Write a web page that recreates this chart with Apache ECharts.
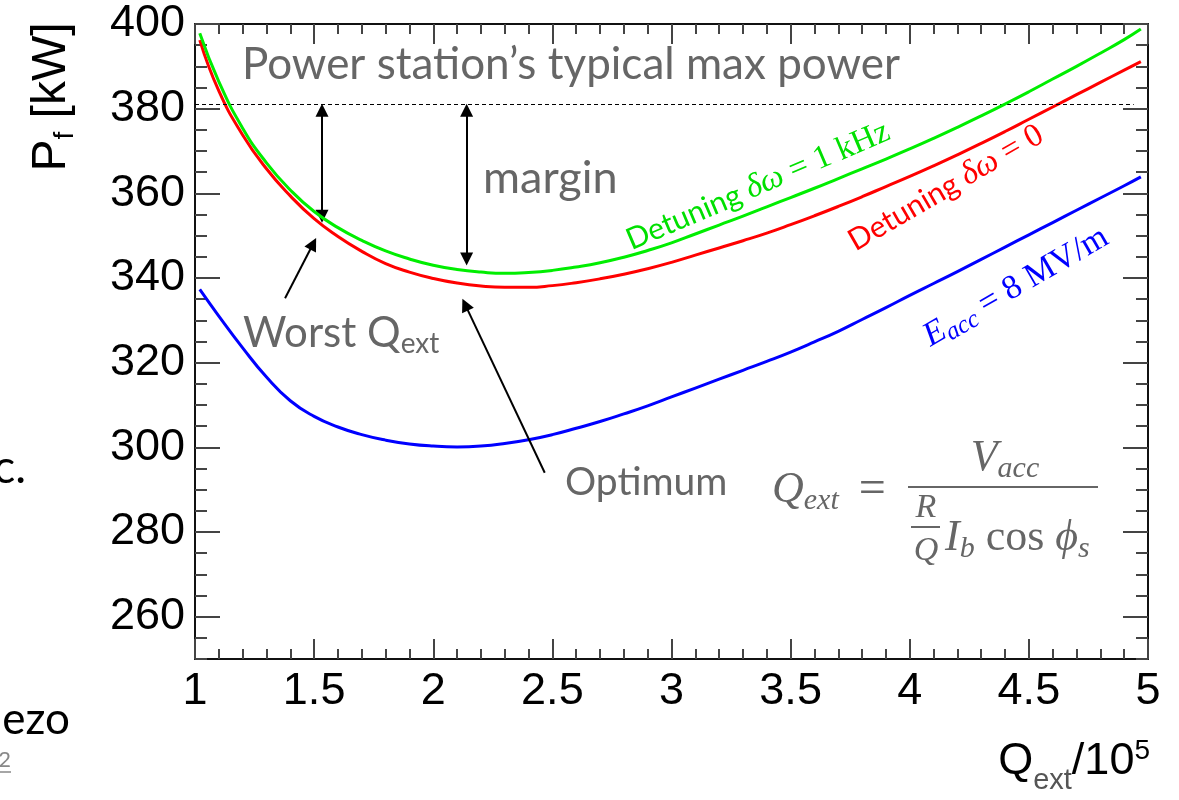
<!DOCTYPE html>
<html>
<head>
<meta charset="utf-8">
<script src="https://cdn.jsdelivr.net/npm/echarts@6/dist/echarts.min.js"></script>
<style>
  html, body { margin: 0; padding: 0; background: #ffffff; }
  #chart { width: 1179px; height: 800px; }
</style>
</head>
<body>
<div id="chart"></div>
<script>
// External quality factor (units of 1e5)
const qExt = [1.02, 1.1, 1.2, 1.3, 1.4, 1.5, 1.6, 1.7, 1.8, 1.9,
  2.0, 2.1, 2.2, 2.3, 2.4, 2.5, 2.6, 2.7, 2.8, 2.9,
  3.0, 3.1, 3.2, 3.3, 3.4, 3.5, 3.6, 3.7, 3.8, 3.9,
  4.0, 4.1, 4.2, 4.3, 4.4, 4.5, 4.6, 4.7, 4.8, 4.9, 4.97];

// Forward power [kW], detuning 1 kHz
const powerDetuned = [397.8, 386.4, 375.4, 367.2, 360.8, 355.7, 351.9, 348.9, 346.4, 344.5,
  343.0, 342.0, 341.4, 341.1, 341.3, 341.8, 342.6, 343.6, 344.9, 346.5,
  348.3, 350.4, 352.5, 354.6, 356.8, 359.0, 361.2, 363.5, 365.8, 368.1,
  370.5, 373.0, 375.6, 378.3, 381.1, 384.0, 387.0, 390.0, 393.1, 396.3, 398.8];

// Forward power [kW], no detuning
const powerTuned = [396.2, 384.2, 373.8, 365.8, 359.4, 354.0, 349.8, 346.3, 343.4, 341.4,
  339.9, 338.8, 338.1, 337.8, 337.8, 338.2, 338.9, 339.8, 340.9, 342.2,
  343.7, 345.4, 347.1, 348.8, 350.6, 352.6, 354.7, 356.9, 359.2, 361.6,
  364.0, 366.5, 369.1, 371.8, 374.6, 377.5, 380.4, 383.3, 386.2, 389.1, 391.1];

// Forward power [kW], Eacc = 8 MV/m
const powerLowField = [337.3, 331.0, 323.5, 316.6, 311.0, 307.3, 304.8, 303.0, 301.7, 300.8,
  300.3, 300.1, 300.3, 300.9, 301.8, 303.0, 304.5, 306.1, 307.9, 309.8,
  311.9, 314.0, 316.1, 318.2, 320.3, 322.5, 324.9, 327.4, 330.2, 333.0,
  335.9, 338.7, 341.5, 344.4, 347.3, 350.2, 353.1, 356.0, 358.9, 361.8, 363.9];

const yMajorTicks = [260, 280, 300, 320, 340, 360, 380, 400];
const stationMaxPower = 381;

// Annotation arrows: [x, yFrom, yTo] in data units
const marginArrowWorst = [1.533, 379.6, 354.6];
const marginArrowOpt = [2.140, 379.6, 344.5];
const worstArrow = [[1.378, 335.2], [1.496, 348.1]];
const optimumArrow = [[2.468, 294.0], [2.134, 333.7]];

const pairs = ys => qExt.map((x, i) => [x, ys[i]]);

const chart = echarts.init(document.getElementById('chart'), null, { renderer: 'canvas' });

const SANS = 'Liberation Sans, Arial, Helvetica, sans-serif';
const NOTE = 'Lato, Open Sans, sans-serif';
const SERIF = 'Liberation Serif, DejaVu Serif, serif';
const GRAY = '#666666';
const AXIS = '#111111';
const TICK = '#444444';

function xAxisDef(pos, labels) {
  return {
    type: 'value', min: 1, max: 5, interval: 0.5, position: pos,
    axisLine: { show: true, onZero: false, lineStyle: { color: AXIS, width: 2 } },
    axisTick: { show: true, inside: true, length: 20, lineStyle: { color: TICK, width: 2 } },
    minorTick: { show: true, splitNumber: 5, length: 10, lineStyle: { color: TICK, width: 2 } },
    axisLabel: { show: labels, margin: 10, color: '#000', fontSize: 45, fontFamily: SANS },
    splitLine: { show: false }, minorSplitLine: { show: false }
  };
}
function yMinorDef(pos) {
  return {
    type: 'value', min: 250, max: 400, interval: 5, position: pos,
    axisLine: { show: true, onZero: false, lineStyle: { color: AXIS, width: 2 } },
    axisTick: { show: true, inside: true, length: 12, lineStyle: { color: TICK, width: 2 } },
    axisLabel: { show: false },
    splitLine: { show: false }
  };
}
function yMajorDef(pos, labels) {
  return {
    type: 'value', min: 250, max: 400, position: pos,
    axisLine: { show: false },
    axisTick: { show: true, inside: true, length: 25, customValues: yMajorTicks, lineStyle: { color: TICK, width: 2 } },
    axisLabel: { show: labels, customValues: yMajorTicks, margin: 10, color: '#000', fontSize: 45, fontFamily: SANS },
    splitLine: { show: false }
  };
}

function arrowLine(from, to, startArrow) {
  return [
    { coord: from, symbol: startArrow ? 'path://M0,0L6,14L-6,14Z' : 'none', symbolSize: 13,
      lineStyle: { color: '#000', width: 2, type: 'solid' } },
    { coord: to, symbol: 'path://M0,0L6,14L-6,14Z', symbolSize: 13 }
  ];
}

const italicSerif = (size, color, extra) => Object.assign({ fontSize: size, fontFamily: SERIF, fontStyle: 'italic', fill: color }, extra || {});
const uprightSerif = (size, color, extra) => Object.assign({ fontSize: size, fontFamily: SERIF, fill: color }, extra || {});

const option = {
  animation: false,
  backgroundColor: '#ffffff',
  grid: { left: 195, right: 31, top: 24, bottom: 141, containLabel: false },
  xAxis: [xAxisDef('bottom', true), xAxisDef('top', false)],
  yAxis: [yMinorDef('left'), yMajorDef('left', true), yMinorDef('right'), yMajorDef('right', false)],
  series: [
    {
      name: 'Eacc = 8 MV/m', type: 'line', data: pairs(powerLowField), smooth: true,
      showSymbol: false, lineStyle: { color: '#0000ff', width: 3 }, z: 3,
      markLine: {
        silent: true, animation: false, label: { show: false },
        symbol: ['none', 'none'],
        data: [
          [{ coord: [1, stationMaxPower], symbol: 'none', lineStyle: { color: '#000', width: 1, type: [4, 3] } },
           { coord: [4.94, stationMaxPower], symbol: 'none' }],
          arrowLine([marginArrowWorst[0], marginArrowWorst[1]], [marginArrowWorst[0], marginArrowWorst[2]], true),
          arrowLine([marginArrowOpt[0], marginArrowOpt[1]], [marginArrowOpt[0], marginArrowOpt[2]], true),
          arrowLine(worstArrow[0], worstArrow[1], false),
          arrowLine(optimumArrow[0], optimumArrow[1], false)
        ]
      }
    },
    {
      name: 'Detuning 0', type: 'line', data: pairs(powerTuned), smooth: true,
      showSymbol: false, lineStyle: { color: '#ff0000', width: 3 }, z: 4
    },
    {
      name: 'Detuning 1 kHz', type: 'line', data: pairs(powerDetuned), smooth: true,
      showSymbol: false, lineStyle: { color: '#00ee00', width: 3 }, z: 5
    }
  ],
  graphic: [
    // annotation texts
    { type: 'text', x: 242, y: 65, style: { text: 'Power station’s typical max power', font: '44px ' + NOTE, fill: GRAY, align: 'left', verticalAlign: 'middle' } },
    { type: 'text', x: 483, y: 178, style: { text: 'margin', font: '45px ' + NOTE, fill: GRAY, align: 'left', verticalAlign: 'middle' } },
    { type: 'text', x: 243, y: 333, style: {
        text: '{a|Worst Q}{b|ext}', align: 'left', verticalAlign: 'middle',
        rich: { a: { fontSize: 42, fontFamily: NOTE, fill: GRAY, lineHeight: 50 },
                b: { fontSize: 28, fontFamily: NOTE, fill: GRAY, lineHeight: 28, verticalAlign: 'bottom' } } } },
    { type: 'text', x: 565, y: 482, style: { text: 'Optimum', font: '39px ' + NOTE, fill: GRAY, align: 'left', verticalAlign: 'middle' } },

    // Q_ext formula
    { type: 'text', x: 772, y: 490, style: {
        text: '{q|Q}{s|ext}{e|=}', align: 'left', verticalAlign: 'middle',
        rich: { q: italicSerif(44, GRAY, { lineHeight: 52 }),
                s: italicSerif(30, GRAY, { lineHeight: 32, verticalAlign: 'bottom' }),
                e: uprightSerif(48, GRAY, { lineHeight: 52, padding: [0, 0, 0, 20] }) } } },
    { type: 'line', shape: { x1: 908, y1: 487, x2: 1098, y2: 487 }, style: { stroke: GRAY, lineWidth: 2 } },
    { type: 'text', x: 1005, y: 458, style: {
        text: '{q|V}{s|acc}', align: 'center', verticalAlign: 'middle',
        rich: { q: italicSerif(44, GRAY, { lineHeight: 52 }),
                s: italicSerif(30, GRAY, { lineHeight: 32, verticalAlign: 'bottom' }) } } },
    { type: 'text', x: 926, y: 508, style: { text: 'R', font: 'italic 34px ' + SERIF, fill: GRAY, align: 'center', verticalAlign: 'middle' } },
    { type: 'line', shape: { x1: 911, y1: 527, x2: 940, y2: 527 }, style: { stroke: GRAY, lineWidth: 2 } },
    { type: 'text', x: 926, y: 551, style: { text: 'Q', font: 'italic 34px ' + SERIF, fill: GRAY, align: 'center', verticalAlign: 'middle' } },
    { type: 'text', x: 945, y: 538, style: {
        text: '{q|I}{s|b}{e| cos }{q|ϕ}{s|s}', align: 'left', verticalAlign: 'middle',
        rich: { q: italicSerif(44, GRAY, { lineHeight: 52 }),
                s: italicSerif(30, GRAY, { lineHeight: 32, verticalAlign: 'bottom' }),
                e: uprightSerif(44, GRAY, { lineHeight: 52 }) } } },

    // curve labels
    { type: 'text', x: 758, y: 186, rotation: 23 * Math.PI / 180, style: {
        text: '{a|Detuning }{b|δω}{c| = 1 kHz}', align: 'center', verticalAlign: 'middle',
        rich: { a: { fontSize: 30, fontFamily: NOTE, fill: '#00e000' },
                b: italicSerif(33, '#00e000'),
                c: uprightSerif(33, '#00e000') } } },
    { type: 'text', x: 946, y: 188, rotation: 30 * Math.PI / 180, style: {
        text: '{a|Detuning }{b|δω}{c| = 0}', align: 'center', verticalAlign: 'middle',
        rich: { a: { fontSize: 30, fontFamily: NOTE, fill: '#ff0000' },
                b: italicSerif(33, '#ff0000'),
                c: uprightSerif(33, '#ff0000') } } },
    { type: 'text', x: 1016, y: 287, rotation: 30 * Math.PI / 180, style: {
        text: '{b|E}{s|acc}{c| = 8 MV/m}', align: 'center', verticalAlign: 'middle',
        rich: { b: italicSerif(34, '#0000ff', { lineHeight: 40 }),
                s: italicSerif(25, '#0000ff', { lineHeight: 25, verticalAlign: 'bottom' }),
                c: uprightSerif(34, '#0000ff', { lineHeight: 40 }) } } },

    // axis titles
    { type: 'text', x: 52, y: 97, rotation: Math.PI / 2, style: {
        text: '{m|P}{s|f}{m| [kW]}', align: 'center', verticalAlign: 'middle',
        rich: { m: { fontSize: 48, fontFamily: SANS, fill: '#000', lineHeight: 54 },
                s: { fontSize: 28, fontFamily: SANS, fill: '#000', lineHeight: 28, verticalAlign: 'bottom' } } } },
    { type: 'text', x: 1150, y: 762, style: {
        text: '{m|Q}{s|ext}{m|/10}{p|5}', align: 'right', verticalAlign: 'middle',
        rich: { m: { fontSize: 45, fontFamily: SANS, fill: '#000', lineHeight: 50 },
                s: { fontSize: 29, fontFamily: SANS, fill: '#555', lineHeight: 29, verticalAlign: 'bottom', padding: [0, 0, -8, 0] },
                p: { fontSize: 28, fontFamily: SANS, fill: '#000', lineHeight: 28, verticalAlign: 'top' } } } },

    // slide text fragments at the left edge
    { type: 'text', x: 26, y: 468, style: { text: 'c.', font: '46px ' + NOTE, fill: '#000', align: 'right', verticalAlign: 'middle' } },
    { type: 'text', x: 70, y: 720, style: { text: 'ezo', font: '44px ' + NOTE, fill: '#000', align: 'right', verticalAlign: 'middle' } },
    { type: 'text', x: 11, y: 760, style: { text: '2', font: '22px ' + NOTE, fill: '#888', align: 'right', verticalAlign: 'middle' } },
    { type: 'line', shape: { x1: 0, y1: 772, x2: 11, y2: 772 }, style: { stroke: '#888', lineWidth: 1.5 } }
  ]
};

chart.setOption(option);
</script>
</body>
</html>
